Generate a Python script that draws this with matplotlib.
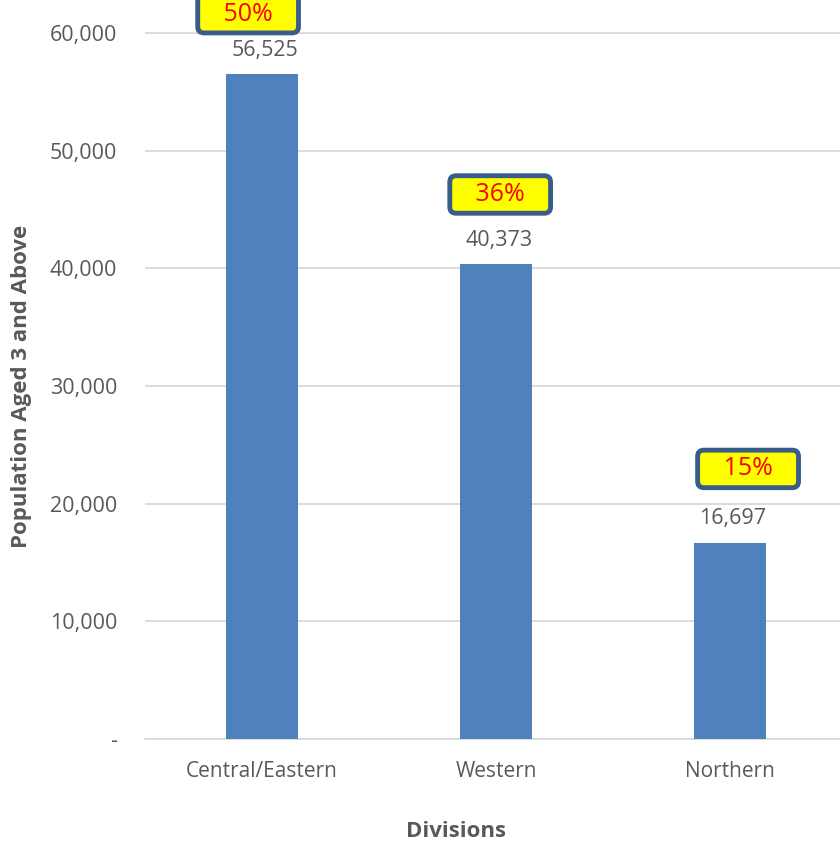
import matplotlib.pyplot as plt
from matplotlib.ticker import FuncFormatter

divisions = ['Central/Eastern', 'Western', 'Northern']
population = [56525, 40373, 16697]
shares = ['50%', '36%', '15%']

plt.rcParams['font.family'] = ['Open Sans', 'DejaVu Sans']
text_color = '#595959'

fig = plt.figure(figsize=(8.4, 8.42), dpi=100)
ax = fig.add_axes([145 / 840, 103 / 842, 695 / 840, 739 / 842])

x = list(range(len(divisions)))
ax.bar(x, population, width=0.31, color='#4F81BD', zorder=3)

ax.set_xlim(-0.5, 2.47)
ax.set_ylim(0, 62804)
ax.set_yticks(range(0, 60001, 10000))
ax.yaxis.set_major_formatter(FuncFormatter(lambda v, p: '-' if v == 0 else f'{int(v):,}'))
ax.grid(axis='y', color='#D9D9D9', linewidth=1.3, zorder=0)
for s in ['top', 'right', 'left']:
    ax.spines[s].set_visible(False)
ax.spines['bottom'].set_color('#D9D9D9')
ax.spines['bottom'].set_linewidth(1.3)
ax.tick_params(axis='both', length=0, colors=text_color)
ax.tick_params(axis='x', labelsize=15, pad=16)
ax.tick_params(axis='y', labelsize=15.5, pad=20)
ax.set_xticks(x)
ax.set_xticklabels(divisions)

ax.set_xlabel('Divisions', fontsize=16, fontweight='bold', color=text_color, va='center')
ax.xaxis.set_label_coords(0.4475, -0.1245)
ax.set_ylabel('Population Aged 3 and Above', fontsize=16, fontweight='bold', color=text_color, va='center')
ax.yaxis.set_label_coords(-0.177, 0.477)

# value labels above bars
for xi, v in zip(x, population):
    ax.annotate(f'{v:,}', (xi, v), xytext=(2, 17), textcoords='offset points',
                ha='center', va='center', fontsize=15.5, color=text_color)

# percentage call-out boxes
box_offsets = [(-10, 43), (3, 50), (13, 53)]
for xi, v, s, off in zip(x, population, shares, box_offsets):
    ax.annotate('   ' + s + '   ', (xi, v), xytext=off, textcoords='offset points',
                ha='center', va='center', fontsize=18, color='red',
                bbox=dict(boxstyle='round,pad=0.25,rounding_size=0.25', fc='yellow',
                          ec='#385D8A', lw=3.5),
                annotation_clip=False)

fig.savefig('out.png', dpi=100)
